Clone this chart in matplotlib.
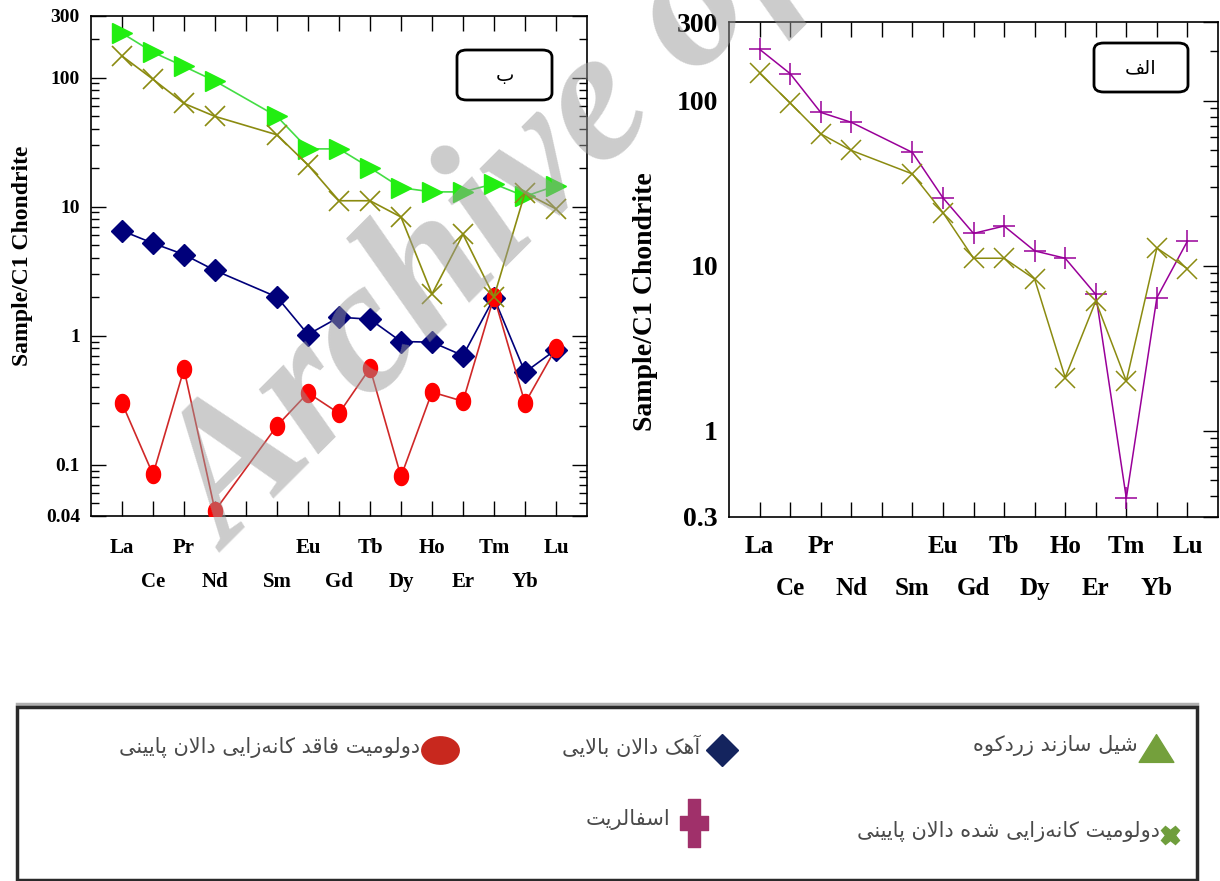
import unicodedata
import numpy as np
import matplotlib
matplotlib.use('Agg')
import matplotlib.pyplot as plt
from matplotlib.patches import FancyBboxPatch, Rectangle
from matplotlib.path import Path
from matplotlib.lines import Line2D
from matplotlib.ticker import LogLocator, NullFormatter

# chondrite-normalised REE patterns (Pm not analysed)
elements = ['La', 'Ce', 'Pr', 'Nd', 'Pm', 'Sm', 'Eu', 'Gd', 'Tb', 'Dy', 'Ho', 'Er', 'Tm', 'Yb', 'Lu']
measured = ['La', 'Ce', 'Pr', 'Nd', 'Sm', 'Eu', 'Gd', 'Tb', 'Dy', 'Ho', 'Er', 'Tm', 'Yb', 'Lu']

shale_zardkuh = [221, 157, 122, 94, 50, 28, 28, 20, 14, 13, 13, 15, 12, 14.5]
dolomite_mineralized = [147, 97, 63, 50, 36, 21, 11.1, 11.1, 8.3, 2.1, 6.1, 2.0, 12.8, 9.6]
limestone_upper = [6.5, 5.2, 4.25, 3.2, 1.99, 1.02, 1.39, 1.34, 0.90, 0.89, 0.70, 1.96, 0.52, 0.78]
dolomite_barren = [0.30, 0.084, 0.55, 0.044, 0.20, 0.36, 0.25, 0.56, 0.081, 0.365, 0.31, 2.0, 0.30, 0.80]
sphalerite = [205, 146, 85, 74, 48.6, 25.8, 15.7, 17.4, 12.3, 11.1, 6.7, 0.39, 6.4, 14.1]

left_yticks = [0.04, 0.1, 1, 10, 100, 300]
right_yticks = [0.3, 1, 10, 100, 300]

legend_labels = [
    'شیل سازند زردکوه',
    'آهک دالان بالایی',
    'دولومیت فاقد کانه‌زایی دالان پایینی',
    'دولومیت کانه‌زایی شده دالان پایینی',
    'اسفالریت',
]
panel_labels = ['ب', 'الف']

W, H = 1220, 881
SERIF = 'Liberation Serif'

RIGHT_ONLY = set('اآأإدذرزژوؤة')


def is_letter(c):
    return c is not None and ('\u0621' <= c <= '\u064a' or c in '\u067e\u0686\u0698\u06a9\u06af\u06cc')


def is_dual(c):
    return is_letter(c) and c not in RIGHT_ONLY


def shape_fa(text):
    # crude contextual shaping + reversal, matplotlib has no bidi support
    out = []
    i = 0
    n = len(text)
    while i < n:
        c = text[i]
        prev = text[i - 1] if i > 0 else None
        nxt = text[i + 1] if i + 1 < n else None
        if not is_letter(c):
            if c != '\u200c':
                out.append(c)
            i += 1
            continue
        joins_prev = is_dual(prev)
        if c == 'ل' and nxt == 'ا':
            out.append('\ufefc' if joins_prev else '\ufefb')
            i += 2
            continue
        joins_next = is_dual(c) and is_letter(nxt)
        form = {(True, False): 'FINAL', (False, True): 'INITIAL', (True, True): 'MEDIAL'}.get((joins_prev, joins_next))
        ch = c
        if form:
            try:
                ch = unicodedata.lookup(unicodedata.name(c) + ' ' + form + ' FORM')
            except KeyError:
                ch = c
        out.append(ch)
        i += 1
    return ''.join(reversed(out))


def fx(x):
    return x / W


def fy(y):
    return 1 - y / H


def style_axes(ax, ylim, yticks, fs_tick, fs_x, pad1, pad2, left_ticks=True):
    ax.set_yscale('log')
    ax.set_xlim(0, 16)
    ax.set_ylim(*ylim)
    ax.set_yticks(yticks)
    ax.set_yticklabels([f'{t:g}' for t in yticks])
    ax.yaxis.set_minor_locator(LogLocator(base=10, subs=np.arange(2, 10)))
    ax.yaxis.set_minor_formatter(NullFormatter())
    # two staggered rows of element names: odd positions on top row, even below
    pos = list(range(1, 16))
    top_row = [(p, e) for p, e in zip(pos, elements) if p % 2 == 1]
    low_row = [(p, e) for p, e in zip(pos, elements) if p % 2 == 0]
    ax.set_xticks([p for p, _ in top_row], ['' if e == 'Pm' else e for _, e in top_row])
    ax.set_xticks([p for p, _ in low_row], [e for _, e in low_row], minor=True)
    for lab in ax.get_xticklabels(minor=False) + ax.get_xticklabels(minor=True):
        lab.set_fontfamily(SERIF)
        lab.set_fontweight('bold')
        lab.set_fontsize(fs_x)
    ax.tick_params(axis='x', which='both', direction='in', top=True, bottom=True,
                   length=11, width=1)
    ax.tick_params(axis='x', which='major', pad=pad1)
    ax.tick_params(axis='x', which='minor', pad=pad2)
    ax.tick_params(axis='y', which='major', direction='in', left=left_ticks, right=True,
                   length=11, width=1, pad=8, labelsize=fs_tick)
    ax.tick_params(axis='y', which='minor', direction='in', left=left_ticks, right=True,
                   length=6, width=1)
    for lab in ax.get_yticklabels():
        lab.set_fontfamily(SERIF)
        lab.set_fontweight('bold')
    for sp in ax.spines.values():
        sp.set_linewidth(1.2)


fig = plt.figure(figsize=(W / 100, H / 100), dpi=100)

# marker shapes
t = np.linspace(0, 2 * np.pi, 40)
ellipse_tall = Path(np.column_stack([0.78 * np.cos(t), np.sin(t)]), closed=True)
ellipse_wide = Path(np.column_stack([np.cos(t), 0.73 * np.sin(t)]), closed=True)
tri_wide = Path([(-1, -0.8), (1, -0.8), (0, 0.8), (-1, -0.8)], closed=True)
fat_plus = Path([(-0.25, 1), (0.25, 1), (0.25, 0.3), (0.6, 0.3), (0.6, -0.3), (0.25, -0.3),
                 (0.25, -1), (-0.25, -1), (-0.25, -0.3), (-0.6, -0.3), (-0.6, 0.3),
                 (-0.25, 0.3), (-0.25, 1)], closed=True)

x_pos = [elements.index(e) + 1 for e in measured]

# left panel (ب)
ax1 = fig.add_axes([fx(91), fy(516), fx(587 - 91), (516 - 16) / H])
ax1.plot(x_pos, shale_zardkuh, color='#44dd44', lw=1.2, marker='>', ms=14,
         mfc='#22ee11', mec='#22ee11', zorder=3)
ax1.plot(x_pos, dolomite_mineralized, color='#8b8b10', lw=1.2, marker='x', ms=15,
         mew=1.2, zorder=4)
ax1.plot(x_pos, limestone_upper, color='#00007a', lw=1.2, marker='D', ms=11,
         mfc='#00007a', mec='#00007a', zorder=3)
ax1.plot(x_pos, dolomite_barren, color='#d02828', lw=1.2, marker=ellipse_tall, ms=13,
         mfc='#ff0000', mec='#ff0000', zorder=3)
style_axes(ax1, (0.04, 300), left_yticks, 14, 15, 16, 40)
ax1.set_ylabel('Sample/C1 Chondrite', fontfamily=SERIF, fontweight='bold', fontsize=17)
ax1.yaxis.set_label_coords(-0.117, 0.52)

# right panel (الف)
ax2 = fig.add_axes([fx(729), fy(517), fx(1218 - 729), (517 - 22) / H])
ax2.plot(x_pos, sphalerite, color='#990099', lw=1.1, marker='+', ms=16, mew=1.1, zorder=3)
ax2.plot(x_pos, dolomite_mineralized, color='#8b8b10', lw=1.1, marker='x', ms=15,
         mew=1.1, zorder=4)
style_axes(ax2, (0.3, 300), right_yticks, 20, 18, 13, 43, left_ticks=False)
ax2.set_ylabel('Sample/C1 Chondrite', fontfamily=SERIF, fontweight='bold', fontsize=20)
ax2.yaxis.set_label_coords(-0.145, 0.436)

# panel tags
for (x0, y0, x1, y1), lab in zip([(457, 50, 552, 100), (1094, 43, 1188, 92)], panel_labels):
    box = FancyBboxPatch((fx(x0), fy(y1)), fx(x1 - x0), (y1 - y0) / H,
                         boxstyle='round,pad=0,rounding_size=0.008', transform=fig.transFigure,
                         fc='white', ec='black', lw=2, zorder=5)
    fig.patches.append(box)
    fig.text(fx((x0 + x1) / 2), fy((y0 + y1) / 2), shape_fa(lab), ha='center', va='center',
             fontsize=14, family='DejaVu Sans', zorder=6)

# legend panel
fig.patches.append(Rectangle((fx(17), fy(880)), fx(1197 - 17), (880 - 707) / H,
                             transform=fig.transFigure, fc='white', ec='#2a2a2a', lw=2.5, zorder=1))
fig.add_artist(Line2D([fx(17), fx(1197)], [fy(704), fy(704)], color='#b0b0b0', lw=2.5, zorder=0))

legend_items = [
    (1156, 748, tri_wide, 25, '#74a03c', 1138),
    (722, 750, 'D', 16.5, '#14245e', 700),
    (440, 750, ellipse_wide, 27, '#c8281e', 420),
    (1170, 835, 'X', 13, '#6f9e3c', 1160),
    (694, 823, fat_plus, 34, '#a0306a', 670),
]
for (mx, my, mk, ms, col, tx), lab in zip(legend_items, legend_labels):
    fig.add_artist(Line2D([fx(mx)], [fy(my)], ls='none', marker=mk, ms=ms,
                          mfc=col, mec=col, transform=fig.transFigure, zorder=3))
    fig.text(fx(tx), fy(my - 3), shape_fa(lab), ha='right', va='center', fontsize=15,
             family='DejaVu Sans', color='#4a4a4a', zorder=3)

# watermark
fig.text(fx(230), fy(553), 'Archive of SID', rotation=45, rotation_mode='anchor',
         ha='left', va='baseline', fontsize=137, family=SERIF, fontweight='bold',
         fontstyle='italic', color='#9a9a9a', alpha=0.5, zorder=10)

fig.savefig('out.png', dpi=100)
